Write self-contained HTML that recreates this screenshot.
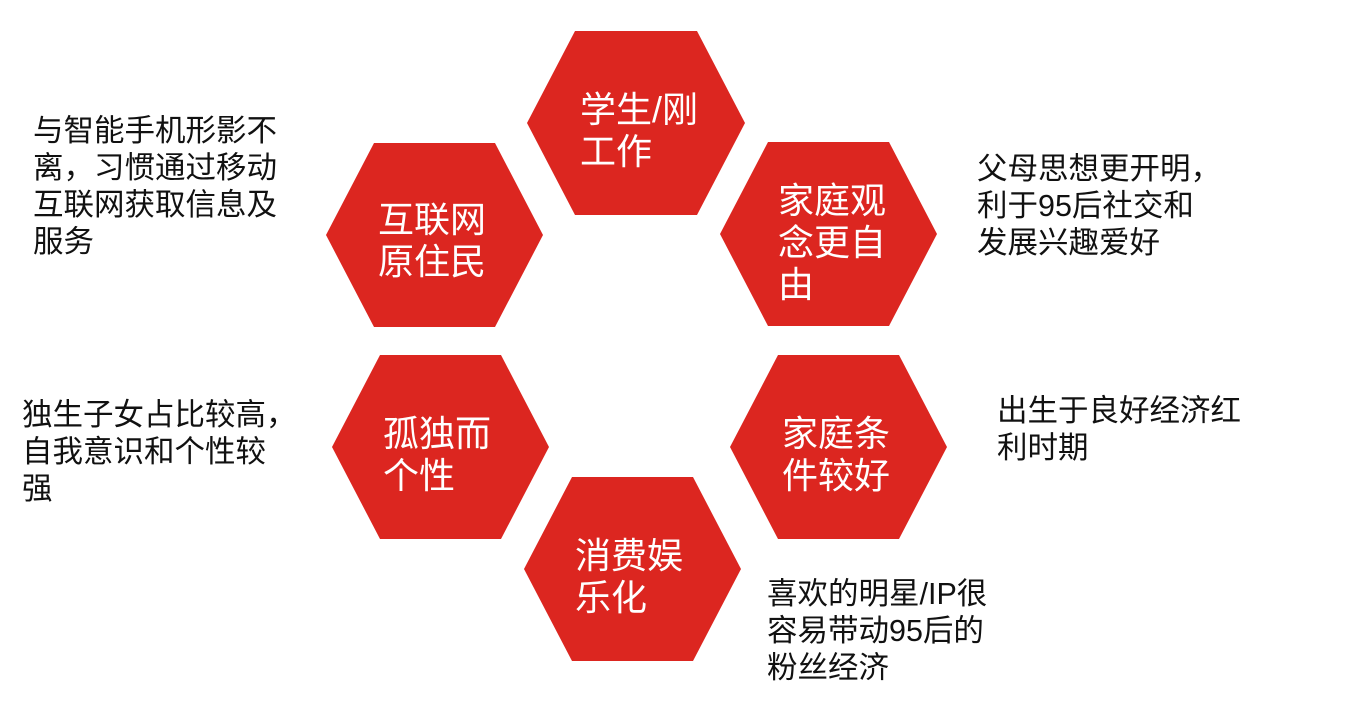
<!DOCTYPE html>
<html><head><meta charset="utf-8"><style>
html,body{margin:0;padding:0;background:#fff;}
svg{display:block;}
.h{fill:#dc2620;}
.w{fill:#fff;font-family:"Liberation Sans","Noto Sans CJK SC",sans-serif;font-size:36px;}
.b{fill:#111;font-family:"Liberation Sans","Noto Sans CJK SC",sans-serif;font-size:30.5px;}
</style></head><body>
<svg width="1363" height="701" viewBox="0 0 1363 701">
<g class="h">
<polygon points="527,123 575,31 697,31 745,123 697,215 575,215"/>
<polygon points="720,234 768,142 889,142 937,234 889,326 768,326"/>
<polygon points="326,235 374,143 495,143 543,235 495,327 374,327"/>
<polygon points="332,447 380,355 501,355 549,447 501,539 380,539"/>
<polygon points="730,447 778,355 899,355 947,447 899,539 778,539"/>
<polygon points="524,569 572,477 693,477 741,569 693,661 572,661"/>
</g>
<g class="w">
<text x="580" y="122">学生/刚</text><text x="580" y="164">工作</text>
<text x="778" y="213">家庭观</text><text x="778" y="255">念更自</text><text x="778" y="297">由</text>
<text x="378" y="232">互联网</text><text x="378" y="274">原住民</text>
<text x="383" y="446">孤独而</text><text x="383" y="488">个性</text>
<text x="782" y="446">家庭条</text><text x="782" y="488">件较好</text>
<text x="575" y="568">消费娱</text><text x="575" y="610">乐化</text>
</g>
<g class="b">
<text x="33" y="141">与智能手机形影不</text><text x="33" y="178">离，习惯通过移动</text><text x="33" y="215">互联网获取信息及</text><text x="33" y="252">服务</text>
<text x="977" y="179">父母思想更开明，</text><text x="977" y="216">利于95后社交和</text><text x="977" y="253">发展兴趣爱好</text>
<text x="22" y="425">独生子女占比较高，</text><text x="22" y="462">自我意识和个性较</text><text x="22" y="499">强</text>
<text x="997" y="421">出生于良好经济红</text><text x="997" y="458">利时期</text>
<text x="767" y="604">喜欢的明星/IP很</text><text x="767" y="641">容易带动95后的</text><text x="767" y="678">粉丝经济</text>
</g>
</svg>
</body></html>
